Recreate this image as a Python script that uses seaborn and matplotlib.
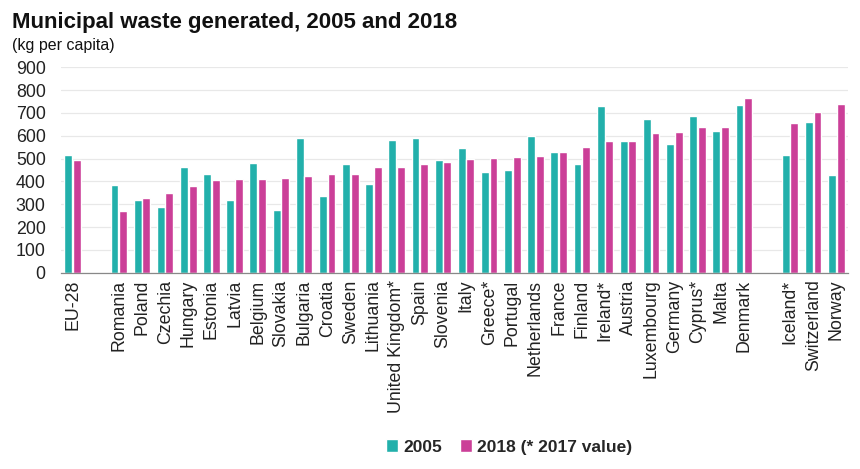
import matplotlib
matplotlib.use('Agg')
import matplotlib.pyplot as plt
import pandas as pd
import seaborn as sns

# data (kg per capita)
countries = ['EU-28', ' ', 'Romania', 'Poland', 'Czechia', 'Hungary', 'Estonia', 'Latvia',
             'Belgium', 'Slovakia', 'Bulgaria', 'Croatia', 'Sweden', 'Lithuania',
             'United Kingdom*', 'Spain', 'Slovenia', 'Italy', 'Greece*', 'Portugal',
             'Netherlands', 'France', 'Finland', 'Ireland*', 'Austria', 'Luxembourg',
             'Germany', 'Cyprus*', 'Malta', 'Denmark', '  ', 'Iceland*', 'Switzerland', 'Norway']
v2005 = [515, None, 383, 319, 289, 461, 433, 320, 482, 273, 588, 336, 477, 387,
         581, 588, 494, 546, 442, 452, 599, 530, 478, 731, 575, 672, 565, 688, 623, 736,
         None, 516, 661, 426]
v2018 = [492, None, 272, 329, 351, 381, 406, 409, 411, 414, 423, 432, 434, 464,
         463, 475, 486, 499, 504, 508, 511, 527, 551, 576, 579, 610, 615, 637, 640, 766,
         None, 656, 703, 739]
series = ['2005', '2018 (* 2017 value)']
colors = ['#22B0AB', '#CB3F98']

df = pd.DataFrame({'country': countries * 2,
                   'value': v2005 + v2018,
                   'year': [series[0]] * len(countries) + [series[1]] * len(countries)})

sns.set_style('white')
plt.rcParams['font.family'] = ['Liberation Sans', 'DejaVu Sans']

fig = plt.figure(figsize=(8.6, 4.69), dpi=100)
ax = fig.add_axes([0.0709, 0.4186, 0.9151, 0.4379])

sns.barplot(data=df, x='country', y='value', hue='year', order=countries,
            palette=colors, width=0.74, gap=0.08, ax=ax, saturation=1)

ax.set_ylim(0, 900)
ax.set_xlim(-0.5, len(countries) - 0.5)
ax.set_yticks(range(0, 901, 100))
ax.yaxis.grid(True, color='#e8e8e8', linewidth=0.9)
ax.set_axisbelow(True)
ax.tick_params(axis='y', length=0, pad=11, labelsize=12.8, colors='#222222')
ax.tick_params(axis='x', which='major', length=0, pad=5, labelsize=12.8,
               labelrotation=90, colors='#222222')
ax.set_xticks([i - 0.5 for i in range(len(countries) + 1)], minor=True)
ax.tick_params(axis='x', which='minor', length=4, width=0.8, color='#888888')
ax.set_xlabel('')
ax.set_ylabel('')
for s in ['top', 'right', 'left']:
    ax.spines[s].set_visible(False)
ax.spines['bottom'].set_color('#888888')
ax.spines['bottom'].set_linewidth(0.9)

handles, labels = ax.get_legend_handles_labels()
ax.get_legend().remove()
leg = fig.legend(handles, labels, loc='center', bbox_to_anchor=(0.592, 0.047), ncol=2,
                 frameon=False, handlelength=0.7, handleheight=0.7, handletextpad=0.3,
                 columnspacing=1.0, prop={'weight': 'bold', 'size': 12.5})

fig.text(0.014, 0.94, 'Municipal waste generated, 2005 and 2018', fontsize=16,
         fontweight='bold', color='#111111')
fig.text(0.014, 0.893, '(kg per capita)', fontsize=11.5, color='#111111')

plt.savefig('out.png', dpi=100)
